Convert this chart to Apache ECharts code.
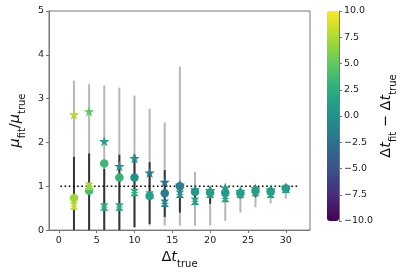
<!DOCTYPE html>
<html><head><meta charset="utf-8">
<script src="https://cdn.jsdelivr.net/npm/echarts@6/dist/echarts.min.js"></script>
<style>html,body{margin:0;padding:0;background:#fff}#c{width:403px;height:274px}</style>
</head><body><div id="c"></div>
<script>
const xs = [2,4,6,8,10,12,14,16,18,20,22,24,26,28,30];
const starY = [2.64,2.71,2.03,1.46,1.64,1.31,1.10,1.03,0.93,0.91,0.97,0.89,0.95,0.92,0.98];
const starC = [7.5,5,1.5,0.5,0,-2,-2.5,-1.5,0.5,1,1,1,1,1,1];
const circY = [0.73,0.90,1.52,1.20,1.20,0.78,0.84,1.00,0.87,0.86,0.86,0.84,0.90,0.88,0.95];
const circC = [7,4,3.5,3,0,1.5,-1.5,-1.5,0.5,0.5,0.5,0.5,0.5,0.5,0.5];
const hourY = [0.55,1.00,0.53,0.53,0.86,0.80,0.61,0.82,0.66,0.82,0.72,0.82,0.86,0.82,0.93];
const hourC = [8,7,2,1.8,2.5,1.5,-0.8,-0.5,1.5,1.5,1.5,1.5,1.5,1.5,1.5];
const grayLo = [0,0,0,0,0.05,0.1,0.1,0.1,0.1,0.1,0.21,0.4,0.52,0.61,0.72];
const grayHi = [3.41,3.33,3.30,3.25,3.07,2.77,2.46,3.73,1.33,1.0,1.0,0.97,1.0,0.98,1.05];
const blackLo = [0,0,0,0,0.07,0.14,0.3,0.4,0.58,0.6,0.65,0.72,0.75,0.75,0.85];
const blackHi = [1.67,1.75,1.4,1.72,1.72,1.55,1.37,1.1,1.0,0.98,1.0,0.95,1.0,0.98,1.02];
const refLine = [[0.2,1],[31.8,1]];
const xTicks = [0,5,10,15,20,25,30];
const cbarMin = -10, cbarMax = 10, cbarStep = 2.5;

const viridis = ['#440154','#472d7b','#3b528b','#2c728e','#21918c','#28ae80','#5ec962','#addc30','#fde725'];
const STAR = 'path://M50,0 L61,35 L98,35 L68,57 L79,91 L50,70 L21,91 L32,57 L2,35 L39,35 Z';
const HOUR = 'path://M0,0 L100,0 L68,40 L100,50 L68,60 L100,100 L0,100 L32,60 L0,50 L32,40 Z';
const FONT = 'DejaVu Sans';

function bars(lo, hi, color, w) {
  return {
    type: 'custom', xAxisIndex: 0, yAxisIndex: 0, clip: true,
    data: xs.map((x, i) => [x, lo[i], hi[i]]),
    encode: {x: 0, y: [1, 2]},
    renderItem: (params, api) => {
      const a = api.coord([api.value(0), api.value(1)]);
      const b = api.coord([api.value(0), api.value(2)]);
      return {type: 'line', shape: {x1: a[0], y1: a[1], x2: b[0], y2: b[1]},
              style: {stroke: color, lineWidth: w}};
    }
  };
}
function pts(ys, cs, sym, size) {
  return {type: 'scatter', symbol: sym, symbolSize: size, xAxisIndex: 0, yAxisIndex: 0,
          data: xs.map((x, i) => [x, ys[i], cs[i]]), itemStyle: {opacity: 1}, z: 5};
}
const sub = {fontFamily: FONT, fontSize: 10, color: '#111', verticalAlign: 'bottom'};
const mainI = {fontFamily: FONT, fontSize: 14.5, fontStyle: 'italic', color: '#111', verticalAlign: 'bottom', padding: [0,0,4,0]};
const mainN = {fontFamily: FONT, fontSize: 14.5, color: '#111', verticalAlign: 'bottom', padding: [0,0,4,0]};
const richT = {i: mainI, n: mainN, s: sub};

const chart = echarts.init(document.getElementById('c'), null, {renderer: 'canvas'});
chart.setOption({
  animation: false,
  backgroundColor: '#fff',
  textStyle: {fontFamily: FONT},
  grid: [
    {left: 40, top: 11, width: 270, height: 220, show: true, borderColor: '#777', borderWidth: 1},
    {left: 327, top: 11, width: 12, height: 210, show: false}
  ],
  xAxis: [
    {type: 'value', gridIndex: 0, min: -1.3, max: 33.2,
     axisLine: {onZero: false, lineStyle: {color: '#777', width: 1}},
     axisTick: {show: true, length: 3, customValues: xTicks, lineStyle: {color: '#777'}},
     axisLabel: {customValues: xTicks, color: '#222', fontSize: 9.5, margin: 5, fontFamily: FONT},
     splitLine: {show: false},
     name: '{n|Δ}{i|t}{s|true}', nameLocation: 'middle', nameGap: 18,
     nameTextStyle: {rich: richT}},
    {type: 'value', gridIndex: 1, min: 0, max: 1, show: false}
  ],
  yAxis: [
    {type: 'value', gridIndex: 0, min: 0, max: 5, interval: 1,
     axisLine: {show: true, onZero: false, lineStyle: {color: '#777', width: 1}},
     axisTick: {show: true, length: 3, lineStyle: {color: '#777'}},
     axisLabel: {color: '#222', fontSize: 9.5, margin: 5, fontFamily: FONT},
     splitLine: {show: false},
     name: '{i|μ}{s|fit}{n|/}{i|μ}{s|true}', nameLocation: 'middle', nameGap: 22, nameRotate: 90,
     nameTextStyle: {rich: richT}},
    {type: 'value', gridIndex: 1, min: cbarMin, max: cbarMax, interval: cbarStep, position: 'right',
     axisLine: {show: true, onZero: false, lineStyle: {color: '#777', width: 1}},
     axisTick: {show: true, length: 3, lineStyle: {color: '#777'}},
     axisLabel: {color: '#222', fontSize: 9.5, margin: 5, fontFamily: FONT,
                 formatter: v => v.toFixed(1).replace('-', '\u2212')},
     splitLine: {show: false},
     name: '{n|Δ}{i|t}{s|fit}{n| − Δ}{i|t}{s|true}', nameLocation: 'middle', nameGap: 40, nameRotate: 90,
     nameTextStyle: {rich: richT}}
  ],
  visualMap: {
    type: 'continuous', min: cbarMin, max: cbarMax, dimension: 2, seriesIndex: [3,4,5],
    inRange: {color: viridis}, show: true, calculable: false, orient: 'vertical',
    left: 327, top: 11, itemWidth: 12, itemHeight: 210, padding: 0, text: null,
    borderWidth: 0
  },
  series: [
    bars(grayLo, grayHi, 'rgba(170,170,170,0.85)', 2),
    bars(blackLo, blackHi, 'rgba(20,20,20,0.8)', 2),
    {type: 'line', data: refLine, symbol: 'none', xAxisIndex: 0, yAxisIndex: 0,
     lineStyle: {color: '#000', width: 1.6, type: [1.6, 2.6]}, z: 3},
    pts(circY, circC, 'circle', 8.5),
    pts(starY, starC, STAR, 10.5),
    pts(hourY, hourC, HOUR, [8.5, 7.5])
  ]
});
</script></body></html>
